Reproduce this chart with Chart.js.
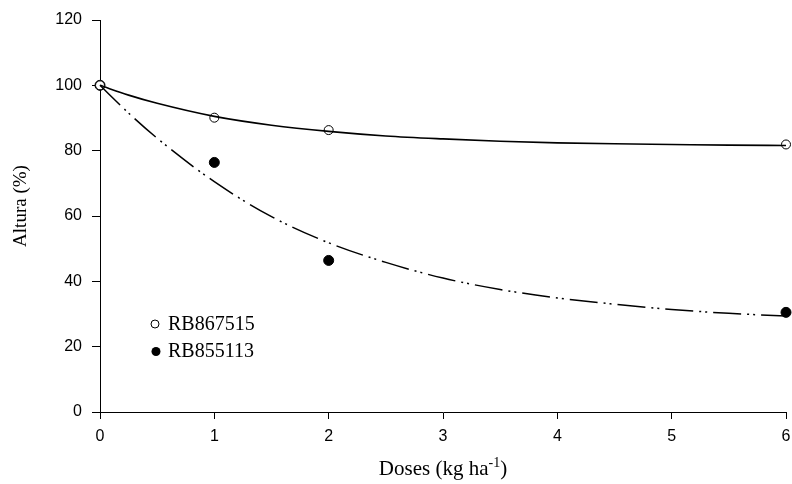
<!DOCTYPE html>
<html>
<head>
<meta charset="utf-8">
<script src="https://cdn.jsdelivr.net/npm/chart.js@4/dist/chart.umd.min.js"></script>
<style>
  html, body { margin: 0; padding: 0; background: #fff; }
  #wrap { width: 792px; height: 484px; position: relative; }
</style>
</head>
<body>
<div id="wrap"><canvas id="c" width="792" height="484"></canvas></div>
<script>
// ---- Data ----
const doses = [0, 1, 2, 6];
const rb867515 = [100, 90.1, 86.3, 81.9];
const rb855113 = [100, 76.4, 46.4, 30.5];

// fitted curves
const fitX = [0, 0.25, 0.5, 1, 1.5, 2, 2.5, 3, 3.5, 4, 4.5, 5, 5.5, 6];
const fit867515 = [100, 97.0, 94.5, 90.5, 87.8, 85.9, 84.5, 83.6, 82.9, 82.4, 82.1, 81.9, 81.7, 81.6];
const fit855113 = [100, 91.5, 83.8, 70.5, 59.8, 51.8, 45.8, 41.0, 37.5, 34.9, 33.0, 31.4, 30.2, 29.4];

const xTicks = [0, 1, 2, 3, 4, 5, 6];
const yTicks = [0, 20, 40, 60, 80, 100, 120];
const seriesNames = ['RB867515', 'RB855113'];
const xTitle = 'Doses (kg ha';
const xTitleSup = '-1';
const yTitle = 'Altura (%)';

const pts = (xs, ys) => xs.map((x, i) => ({ x: x, y: ys[i] }));

const annot = {
  id: 'annot',
  afterDraw(chart) {
    const ctx = chart.ctx;
    const area = chart.chartArea;
    ctx.save();
    ctx.fillStyle = '#000';
    ctx.strokeStyle = '#000';
    // y title
    ctx.font = '19px "Liberation Serif", "Times New Roman", serif';
    ctx.textAlign = 'center';
    ctx.textBaseline = 'middle';
    ctx.save();
    ctx.translate(21, 206);
    ctx.rotate(-Math.PI / 2);
    ctx.fillText(yTitle, 0, 0);
    ctx.restore();
    // x title with superscript
    const mainFont = '21px "Liberation Serif", "Times New Roman", serif';
    const supFont = '14px "Liberation Serif", "Times New Roman", serif';
    ctx.textAlign = 'left';
    ctx.textBaseline = 'alphabetic';
    ctx.font = mainFont;
    const w1 = ctx.measureText(xTitle).width;
    const w3 = ctx.measureText(')').width;
    ctx.font = supFont;
    const w2 = ctx.measureText(xTitleSup).width;
    const cx = (area.left + area.right) / 2;
    let x0 = cx - (w1 + w2 + w3) / 2;
    const base = 475;
    ctx.font = mainFont;
    ctx.fillText(xTitle, x0, base);
    ctx.font = supFont;
    ctx.fillText(xTitleSup, x0 + w1, base - 8);
    ctx.font = mainFont;
    ctx.fillText(')', x0 + w1 + w2, base);
    // legend
    ctx.font = '20px "Liberation Serif", "Times New Roman", serif';
    ctx.lineWidth = 1;
    ctx.beginPath();
    ctx.arc(155, 324, 4, 0, Math.PI * 2);
    ctx.stroke();
    ctx.fillText(seriesNames[0], 168, 330);
    ctx.beginPath();
    ctx.arc(156, 351.5, 4.5, 0, Math.PI * 2);
    ctx.fill();
    ctx.fillText(seriesNames[1], 168, 357);
    ctx.restore();
  }
};

new Chart(document.getElementById('c'), {
  type: 'scatter',
  data: {
    datasets: [
      {
        label: seriesNames[0] + ' fit',
        data: pts(fitX, fit867515),
        showLine: true,
        borderColor: '#000',
        borderWidth: 1.6,
        pointRadius: 0,
        cubicInterpolationMode: 'monotone',
        fill: false,
        clip: false,
        order: 1
      },
      {
        label: seriesNames[1] + ' fit',
        data: pts(fitX, fit855113),
        showLine: true,
        borderColor: '#000',
        borderWidth: 1.5,
        borderDash: [28, 6, 2, 4, 2, 6],
        pointRadius: 0,
        cubicInterpolationMode: 'monotone',
        fill: false,
        clip: false,
        order: 1
      },
      {
        label: seriesNames[0],
        data: pts(doses, rb867515),
        showLine: false,
        pointRadius: 4.5,
        pointBackgroundColor: '#fff',
        pointBorderColor: '#000',
        pointBorderWidth: 1,
        clip: false,
        order: 2
      },
      {
        label: seriesNames[1],
        data: pts(doses, rb855113),
        showLine: false,
        pointRadius: 5,
        pointBackgroundColor: '#000',
        pointBorderColor: '#000',
        pointBorderWidth: 1,
        clip: false,
        order: 3
      }
    ]
  },
  options: {
    responsive: false,
    animation: false,
    devicePixelRatio: 1,
    layout: { padding: { left: 0, right: 6, top: 20, bottom: 0 } },
    plugins: { legend: { display: false }, tooltip: { enabled: false } },
    scales: {
      x: {
        type: 'linear',
        min: 0, max: 6,
        afterBuildTicks: s => { s.ticks = xTicks.map(v => ({ value: v })); },
        afterFit: s => { s.height = 72; s.paddingLeft = 0; s.paddingRight = 0; },
        border: { display: true, color: '#000', width: 1 },
        grid: { drawOnChartArea: false, drawTicks: true, tickLength: 7, color: '#000', tickColor: '#000' },
        ticks: { color: '#000', padding: 8, font: { family: '"Liberation Sans", Arial, sans-serif', size: 16 }, maxRotation: 0 }
      },
      y: {
        type: 'linear',
        min: 0, max: 120,
        afterBuildTicks: s => { s.ticks = yTicks.map(v => ({ value: v })); },
        afterFit: s => { s.width = 100; s.paddingTop = 0; s.paddingBottom = 0; },
        border: { display: true, color: '#000', width: 1 },
        grid: { drawOnChartArea: false, drawTicks: true, tickLength: 8, color: '#000', tickColor: '#000' },
        ticks: { color: '#000', padding: 10, font: { family: '"Liberation Sans", Arial, sans-serif', size: 16 } }
      }
    }
  },
  plugins: [annot]
});
</script>
</body>
</html>
